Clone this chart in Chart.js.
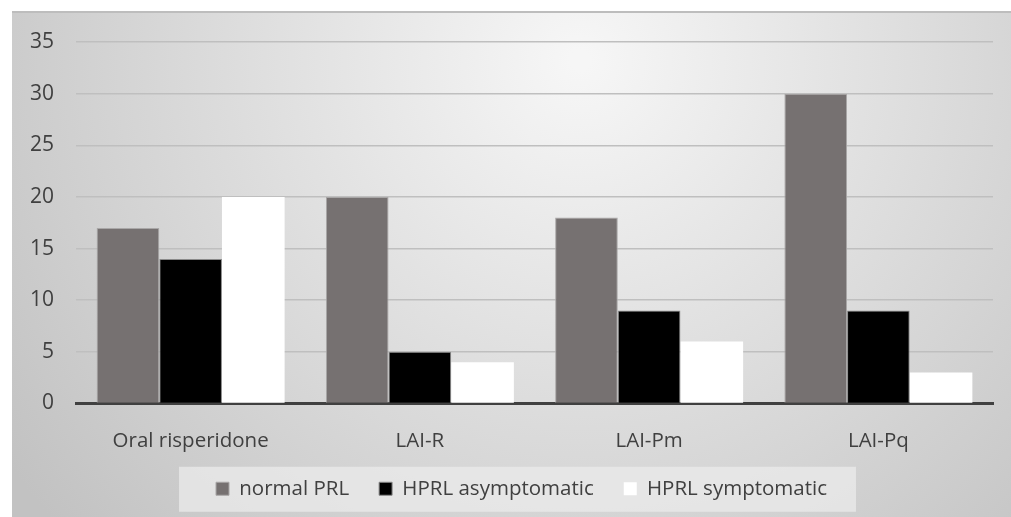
<!DOCTYPE html>
<html>
<head>
<meta charset="utf-8">
<script src="https://cdn.jsdelivr.net/npm/chart.js@4.4.0/dist/chart.umd.min.js"></script>
<style>
  html, body { margin: 0; padding: 0; background: #fff; }
</style>
</head>
<body>
<canvas id="myChart" width="1011" height="517"></canvas>
<script>
// categories and series
var groups = ['Oral risperidone', 'LAI-R', 'LAI-Pm', 'LAI-Pq'];
var normalPRL = [17, 20, 18, 30];
var hprlAsymptomatic = [14, 5, 9, 9];
var hprlSymptomatic = [20, 4, 6, 3];
var yTicks = [0, 5, 10, 15, 20, 25, 30, 35];

var fontFamily = 'Open Sans';
var legendShiftX = 19;
var legendShiftY = -8;

// grey frame with soft gradient, drawn behind everything
var framePlugin = {
  id: 'frame',
  afterLayout: function (chart) {
    // legend sits a bit right of centre and close under the labels
    var lg = chart.legend;
    lg.left += legendShiftX;
    lg.right += legendShiftX;
    lg.top += legendShiftY;
    lg.bottom += legendShiftY;
    lg.legendHitBoxes.forEach(function (b) { b.left += legendShiftX; b.top += legendShiftY; });
  },
  beforeDraw: function (chart) {
    var ctx = chart.ctx;
    ctx.save();
    ctx.fillStyle = '#ffffff';
    ctx.fillRect(0, 0, chart.width, chart.height);
    var g = ctx.createRadialGradient(580, 60, 10, 580, 60, 700);
    g.addColorStop(0, '#f6f6f6');
    g.addColorStop(1, '#c2c2c2');
    ctx.fillStyle = g;
    ctx.fillRect(12, 12, chart.width - 12, chart.height - 12);
    ctx.fillStyle = '#bdbdbd';
    ctx.fillRect(12, 11, chart.width - 12, 2);

    // legend panel
    var boxes = chart.legend.legendHitBoxes;
    if (boxes && boxes.length) {
      var l = boxes[0].left, r = boxes[boxes.length - 1].left + boxes[boxes.length - 1].width;
      var mid = boxes[0].top + boxes[0].height / 2;
      ctx.fillStyle = 'rgba(235,235,235,0.75)';
      ctx.fillRect(l - 37, mid - 14, (r - l) + 66, 45);
    }
    ctx.restore();
  }
};

var ctx1 = document.getElementById('myChart').getContext('2d');
var myChart = new Chart(ctx1, {
  type: 'bar',
  data: {
    labels: groups,
    datasets: [
      { label: 'normal PRL', data: normalPRL, backgroundColor: '#767171', borderColor: '#a9a7a7', borderWidth: 1 },
      { label: 'HPRL asymptomatic', data: hprlAsymptomatic, backgroundColor: '#000000', borderColor: '#8a8a8a', borderWidth: 1 },
      { label: 'HPRL symptomatic', data: hprlSymptomatic, backgroundColor: '#ffffff', borderColor: '#ffffff', borderWidth: 0 }
    ]
  },
  options: {
    responsive: false,
    animation: false,
    devicePixelRatio: 1,
    layout: { padding: { left: 12, right: 18, top: 42, bottom: 0 } },
    datasets: { bar: { categoryPercentage: 0.82, barPercentage: 1 } },
    scales: {
      x: {
        afterFit: function (s) { s.height = 53; },
        grid: { display: false },
        border: { display: true, color: '#404040', width: 3 },
        ticks: { color: '#404040', font: { family: fontFamily, size: 20.5 }, padding: 17 }
      },
      y: {
        min: 0, max: 35,
        afterBuildTicks: function (s) { s.ticks = yTicks.map(function (v) { return { value: v }; }); },
        afterFit: function (s) { s.width = 64; },
        grid: { color: '#bfbfbf', lineWidth: 1.5, drawTicks: false },
        border: { display: false },
        ticks: { color: '#404040', font: { family: fontFamily, size: 21 }, padding: 22 }
      }
    },
    plugins: {
      legend: {
        position: 'bottom',
        labels: {
          color: '#404040',
          font: { family: fontFamily, size: 20.5 },
          boxWidth: 13, boxHeight: 13,
          padding: 30
        }
      },
      tooltip: { enabled: false }
    }
  },
  plugins: [framePlugin]
});
</script>
</body>
</html>
